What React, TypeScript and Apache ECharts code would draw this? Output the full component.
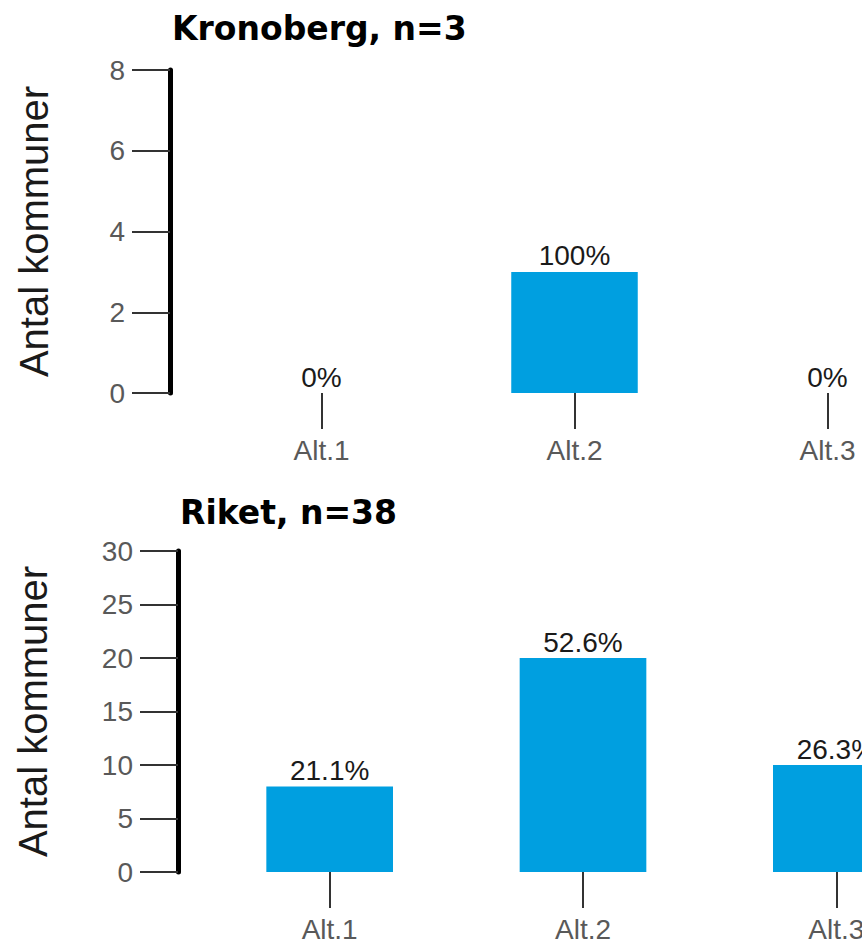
import React, { useEffect, useRef } from "react";
import * as echarts from "echarts";

const categories = ["Alt.1", "Alt.2", "Alt.3"];
const kronobergCounts = [0, 3, 0];
const kronobergLabels = ["0%", "100%", "0%"];
const riketCounts = [8, 20, 10];
const riketLabels = ["21.1%", "52.6%", "26.3%"];
const kronobergTitle = "Kronoberg, n=3";
const riketTitle = "Riket, n=38";
const yName = "Antal kommuner";

const FONT = "'Liberation Sans', Arial, Helvetica, sans-serif";
const TITLE_FONT = "'DejaVu Sans', sans-serif";
const BAR = "#009fe0";

function yAxis(gridIndex: number, max: number, interval: number, nameGap: number) {
  return {
    type: "value",
    gridIndex,
    min: 0,
    max,
    interval,
    offset: 25,
    name: yName,
    nameLocation: "middle",
    nameGap,
    nameTextStyle: { fontSize: 40, color: "#1a1a1a", fontFamily: FONT },
    axisLine: { show: true, lineStyle: { color: "#000", width: 5 } },
    axisTick: { show: true, length: 38, lineStyle: { color: "#333", width: 2 } },
    axisLabel: { margin: 45, fontSize: 28, color: "#595959", fontFamily: FONT },
    splitLine: { show: false },
  };
}

function xAxis(gridIndex: number) {
  return {
    type: "category",
    gridIndex,
    data: categories,
    axisLine: { show: false },
    axisTick: { show: true, alignWithLabel: true, length: 36, lineStyle: { color: "#333", width: 2 } },
    axisLabel: { margin: 43, fontSize: 28, color: "#595959", fontFamily: FONT },
    splitLine: { show: false },
  };
}

function barSeries(idx: number, data: number[], labels: string[]) {
  return {
    type: "bar",
    xAxisIndex: idx,
    yAxisIndex: idx,
    data,
    barWidth: "50%",
    itemStyle: { color: BAR },
    label: {
      show: true,
      position: "top",
      distance: 2,
      fontSize: 28,
      color: "#1a1a1a",
      fontFamily: FONT,
      formatter: (p: any) => labels[p.dataIndex],
    },
  };
}

export default function App() {
  const ref = useRef<HTMLDivElement>(null);
  useEffect(() => {
    if (!ref.current) return;
    const chart = echarts.init(ref.current, null, { renderer: "svg" });
    chart.setOption({
      animation: false,
      backgroundColor: "#fff",
      textStyle: { fontFamily: FONT },
      title: [
        {
          text: kronobergTitle,
          left: 172,
          top: 12,
          padding: 0,
          textStyle: { fontSize: 33, fontWeight: "bold", color: "#000", fontFamily: TITLE_FONT },
        },
        {
          text: riketTitle,
          left: 180,
          top: 496,
          padding: 0,
          textStyle: { fontSize: 33, fontWeight: "bold", color: "#000", fontFamily: TITLE_FONT },
        },
      ],
      grid: [
        { left: 195, top: 70, width: 759, height: 323 },
        { left: 203, top: 551, width: 760, height: 321 },
      ],
      xAxis: [xAxis(0), xAxis(1)],
      yAxis: [yAxis(0, 8, 2, 116), yAxis(1, 30, 5, 125)],
      series: [
        barSeries(0, kronobergCounts, kronobergLabels),
        barSeries(1, riketCounts, riketLabels),
      ],
    });
    return () => chart.dispose();
  }, []);
  return (
    <div style={{ position: "absolute", left: 0, top: 0, width: 862, height: 944, overflow: "hidden", background: "#fff" }}>
      <div ref={ref} style={{ width: 1000, height: 944 }} />
    </div>
  );
}
